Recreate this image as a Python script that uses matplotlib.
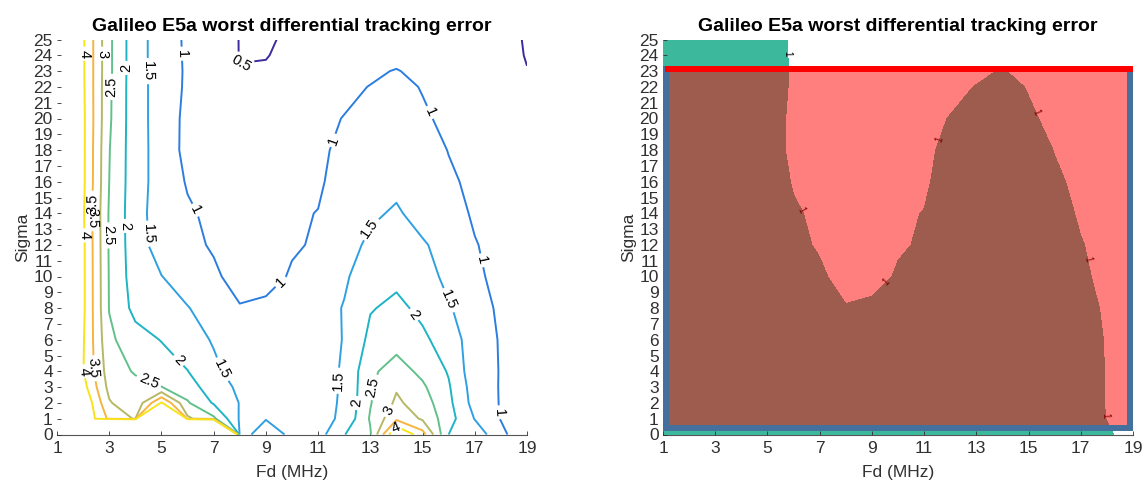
import matplotlib
matplotlib.use("Agg")
import matplotlib.pyplot as plt
from matplotlib.patches import Rectangle

plt.rcParams['font.family'] = ['Liberation Sans', 'DejaVu Sans']

# grid: Fd columns 1..19, one row per sigma value
fd = list(range(1, 20))
sigma = [0, 1, 2, 3, 4, 6, 8, 10, 12, 14, 16, 18, 20, 22, 23, 24, 25]
err = [
    [30, 30, 30, 30, 30, 30, 30, 1.3, 1.75, 1.4, 1.3, 1.98, 2.45, 4.6, 3.7, 2.0, 1.8, 1.15, 0.55],
    [8, 4.5, 3.4, 2.95, 30, 3.1, 2.6, 1.45, 1.48, 1.3, 1.32, 1.6, 2.55, 3.4, 2.93, 2.2, 1.48, 0.975, 0.8],
    [8, 4.5, 3.05, 2.6, 4.05, 2.55, 1.95, 1.48, 1.35, 1.32, 1.37, 1.55, 2.47, 3.09, 2.75, 2.12, 1.31, 0.97, 0.82],
    [8, 4.2, 2.85, 2.65, 2.51, 2.25, 1.71, 1.42, 1.3, 1.3, 1.4, 1.53, 2.45, 2.95, 2.58, 2.05, 1.26, 0.97, 0.82],
    [8, 4.02, 2.75, 2.45, 2.25, 2.01, 1.62, 1.26, 1.2, 1.22, 1.35, 1.54, 2.4, 2.72, 2.38, 1.96, 1.19, 0.98, 0.82],
    [8, 4.05, 2.6, 2.2, 1.98, 1.75, 1.45, 1.25, 1.2, 1.25, 1.3, 1.52, 2.12, 2.3, 2.08, 1.8, 1.2, 0.97, 0.8],
    [8, 4.1, 2.48, 1.85, 1.7, 1.52, 1.3, 1.03, 1.06, 1.25, 1.35, 1.52, 1.97, 2.1, 1.9, 1.55, 1.2, 0.92, 0.78],
    [8, 4.1, 2.47, 1.75, 1.51, 1.28, 1.08, 0.82, 0.9, 1.03, 1.2, 1.45, 1.7, 1.9, 1.75, 1.35, 1.1, 0.85, 0.72],
    [8, 4.1, 2.45, 1.72, 1.28, 1.12, 0.95, 0.9, 0.93, 0.97, 1.03, 1.3, 1.6, 1.75, 1.55, 1.32, 1.02, 0.88, 0.75],
    [8, 4.06, 2.45, 1.7, 1.25, 1.06, 0.9, 0.88, 0.9, 0.975, 1.005, 1.2, 1.42, 1.56, 1.32, 1.16, 0.95, 0.85, 0.72],
    [8, 4.1, 2.5, 1.7, 1.3, 0.96, 0.86, 0.82, 0.85, 0.92, 0.97, 1.09, 1.25, 1.38, 1.25, 1.05, 0.93, 0.84, 0.7],
    [8, 4.1, 2.52, 1.7, 1.3, 0.86, 0.78, 0.74, 0.77, 0.86, 0.96, 1.05, 1.18, 1.28, 1.15, 0.99, 0.9, 0.8, 0.66],
    [8, 4.1, 2.57, 1.69, 1.3, 0.87, 0.75, 0.68, 0.7, 0.8, 0.93, 1.01, 1.12, 1.2, 1.05, 0.92, 0.85, 0.76, 0.62],
    [8, 4.08, 2.58, 1.69, 1.3, 0.92, 0.76, 0.6, 0.62, 0.73, 0.83, 0.93, 1.01, 1.1, 0.98, 0.9, 0.82, 0.72, 0.56],
    [8, 4.07, 2.6, 1.69, 1.29, 0.93, 0.74, 0.51, 0.55, 0.68, 0.78, 0.86, 0.94, 1.02, 0.9, 0.84, 0.77, 0.68, 0.51],
    [8, 4.07, 2.6, 1.69, 1.29, 0.92, 0.72, 0.49, 0.48, 0.62, 0.72, 0.78, 0.84, 0.88, 0.86, 0.8, 0.73, 0.64, 0.48],
    [8, 4.07, 2.6, 1.69, 1.29, 0.91, 0.7, 0.49, 0.43, 0.6, 0.68, 0.74, 0.8, 0.84, 0.82, 0.77, 0.7, 0.62, 0.47],
]

levels = [0.5, 1, 1.5, 2, 2.5, 3, 3.5, 4]
level_colors = ['#3d2b9c', '#2c7de0', '#2fa0e2', '#1eb4c4', '#62c08a', '#b6b865', '#f6b440', '#f8e31c']
threshold = 1
sigma_limit = 23.16
fd_band = (1.13, 18.87)
sigma_floor = 0.38

title = 'Galileo E5a worst differential tracking error'

left_spots = [(2.05, 24.1), (2.8, 24.1), (3.05, 22.0), (3.65, 23.2), (4.48, 23.0), (5.75, 24.1),
              (8.05, 23.6), (2.03, 12.6), (2.3, 14.6), (2.5, 13.7), (3.0, 12.6), (3.6, 13.2),
              (4.38, 12.7), (6.3, 14.2), (9.6, 9.6), (11.6, 18.6), (15.3, 20.4), (17.2, 11.0),
              (17.9, 1.4), (12.9, 13.1), (16.0, 8.5), (11.8, 3.4), (14.6, 7.5), (12.45, 2.0),
              (13.1, 3.0), (13.7, 1.5), (14.0, 0.4), (2.0, 4.0), (2.6, 4.2), (4.5, 3.3),
              (5.6, 4.6), (7.3, 4.1)]
right_spots = [(5.7, 24.1), (6.3, 14.2), (9.7, 9.4), (11.5, 18.7), (15.3, 20.4), (17.2, 11.1), (17.9, 1.2)]

fig = plt.figure(figsize=(11.48, 4.96), dpi=100)
ax1 = fig.add_axes([57 / 1148, 61.5 / 496, 470 / 1148, 395 / 496])
ax2 = fig.add_axes([663 / 1148, 61.5 / 496, 470 / 1148, 395 / 496])


def style_axes(ax):
    ax.set_xlim(1, 19)
    ax.set_ylim(0, 25)
    ax.set_xticks(range(1, 20, 2))
    ax.set_yticks(range(0, 26))
    ax.tick_params(direction='in', length=3, width=0.6, colors='#303030', labelsize=12.5)
    ax.tick_params(axis='y', pad=3)
    ax.tick_params(axis='x', pad=5)
    for side in ['top', 'right', 'left']:
        ax.spines[side].set_visible(False)
    ax.spines['bottom'].set_color('#555555')
    ax.spines['bottom'].set_linewidth(0.8)
    ax.spines['bottom'].set_zorder(0.5)
    ax.set_xlabel('Fd (MHz)', fontsize=12.5, color='#303030', labelpad=6)
    ax.set_ylabel('Sigma', fontsize=12.5, color='#303030', labelpad=2)
    ax.set_title(title, fontsize=14, fontweight='bold', pad=6)


# left: contour lines
cs = ax1.contour(fd, sigma, err, levels=levels, colors=level_colors, linewidths=1.4)
ax1.clabel(cs, fmt='%g', fontsize=10.5, colors='k', inline=True, inline_spacing=3, manual=left_spots)
style_axes(ax1)

# right: region above threshold with the limit box
ax2.contourf(fd, sigma, err, levels=[threshold, 1000], colors=['#3cb99c'])
cs2 = ax2.contour(fd, sigma, err, levels=[threshold], colors='k', linewidths=0)
ax2.clabel(cs2, fmt='%g', fontsize=7, colors='k', inline=False, manual=right_spots)
ax2.add_patch(Rectangle((fd_band[0], sigma_floor), fd_band[1] - fd_band[0], sigma_limit - sigma_floor,
                        facecolor=(1, 0, 0, 0.5), edgecolor='#44709d', linewidth=4.3, zorder=5))
ax2.plot([1.08, 19], [sigma_limit, sigma_limit], color='red', linewidth=4.3,
         solid_capstyle='butt', zorder=6)
style_axes(ax2)

fig.savefig('out.png', dpi=100)
